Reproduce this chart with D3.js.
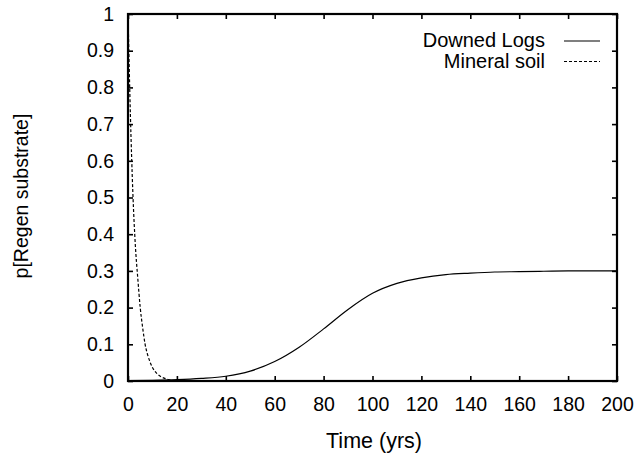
<!DOCTYPE html>
<html>
<head>
<meta charset="utf-8">
<script src="https://cdn.jsdelivr.net/npm/d3@7"></script>
<style>
	body { margin: 0; background: #fff; }
	text { font-family: "Liberation Sans", Arial, sans-serif; fill: #000; }
</style>
</head>
<body>
<div id="chart-area"></div>
<script>
// values
const logsTime = [0, 10, 20, 30, 40, 50, 60, 70, 80, 90, 100, 110, 120, 130, 140, 150, 160, 170, 180, 190, 200]
const logsP = [0.0008, 0.0017, 0.0035, 0.007, 0.013, 0.027, 0.053, 0.092, 0.142, 0.195, 0.239, 0.266, 0.281, 0.29, 0.294, 0.297, 0.298, 0.299, 0.3, 0.3, 0.3]

const soilTime = [0, 1, 2, 3, 4, 5, 6, 7, 8, 9, 10, 12, 14, 16, 18, 20]
const soilP = [1, 0.72, 0.51, 0.37, 0.28, 0.2, 0.145, 0.1, 0.072, 0.052, 0.037, 0.019, 0.01, 0.005, 0.002, 0.001]

const xTicks = [0, 20, 40, 60, 80, 100, 120, 140, 160, 180, 200]
const yTicks = [0, 0.1, 0.2, 0.3, 0.4, 0.5, 0.6, 0.7, 0.8, 0.9, 1]

const series = [
	{ name: "Downed Logs", t: logsTime, p: logsP, dash: null },
	{ name: "Mineral soil", t: soilTime, p: soilP, dash: "3,2" }
]

const width = 639
const height = 456
const plot = { left: 128, right: 617, top: 14, bottom: 381 }

const svg = d3.select("#chart-area").append("svg")
	.attr("width", width)
	.attr("height", height)

const x = d3.scaleLinear().domain([0, 200]).range([plot.left, plot.right])
const y = d3.scaleLinear().domain([0, 1]).range([plot.bottom, plot.top])

// curves
const line = d3.line()
	.x(d => x(d[0]))
	.y(d => y(d[1]))
	.curve(d3.curveMonotoneX)

series.forEach(s => {
	svg.append("path")
		.datum(s.t.map((t, i) => [t, s.p[i]]))
		.attr("d", line)
		.attr("fill", "none")
		.attr("stroke", "#000")
		.attr("stroke-width", 1.2)
		.attr("stroke-dasharray", s.dash)
})

// gnuplot style axes: ticks inward, mirrored on top/right
const tickLen = 5
const axes = [
	{ axis: d3.axisBottom(x), pos: `translate(0,${plot.bottom})`, labels: true },
	{ axis: d3.axisTop(x), pos: `translate(0,${plot.top})`, labels: false },
	{ axis: d3.axisLeft(y), pos: `translate(${plot.left},0)`, labels: true },
	{ axis: d3.axisRight(y), pos: `translate(${plot.right},0)`, labels: false }
]

axes.forEach((a, i) => {
	const isX = i < 2
	a.axis.tickValues(isX ? xTicks : yTicks)
		.tickSize(-tickLen)
		.tickSizeOuter(0)
		.tickFormat(a.labels ? d3.format("") : "")
		.tickPadding(isX ? 16 : 14)
	const g = svg.append("g").attr("transform", a.pos).call(a.axis)
	g.select(".domain").remove()
	g.selectAll(".tick line").attr("stroke", "#000").attr("stroke-width", 1.6)
	g.selectAll(".tick text").attr("font-size", 19.5).attr("font-family", null)
})

// frame
svg.append("rect")
	.attr("x", plot.left)
	.attr("y", plot.top)
	.attr("width", plot.right - plot.left)
	.attr("height", plot.bottom - plot.top)
	.attr("fill", "none")
	.attr("stroke", "#000")
	.attr("stroke-width", 2.2)

// axis titles
svg.append("text")
	.attr("x", 374)
	.attr("y", 448)
	.attr("text-anchor", "middle")
	.attr("font-size", 21.5)
	.text("Time (yrs)")

svg.append("text")
	.attr("transform", "translate(28,196) rotate(-90)")
	.attr("text-anchor", "middle")
	.attr("font-size", 19.5)
	.text("p[Regen substrate]")

// legend
const legend = svg.append("g")
series.forEach((s, i) => {
	const ly = 41 + i * 20.5
	legend.append("text")
		.attr("x", 545)
		.attr("y", ly + 6)
		.attr("text-anchor", "end")
		.attr("font-size", 20)
		.text(s.name)
	legend.append("line")
		.attr("x1", 564)
		.attr("x2", 600)
		.attr("y1", ly)
		.attr("y2", ly)
		.attr("stroke", "#000")
		.attr("stroke-width", 1.2)
		.attr("stroke-dasharray", s.dash)
})
</script>
</body>
</html>
